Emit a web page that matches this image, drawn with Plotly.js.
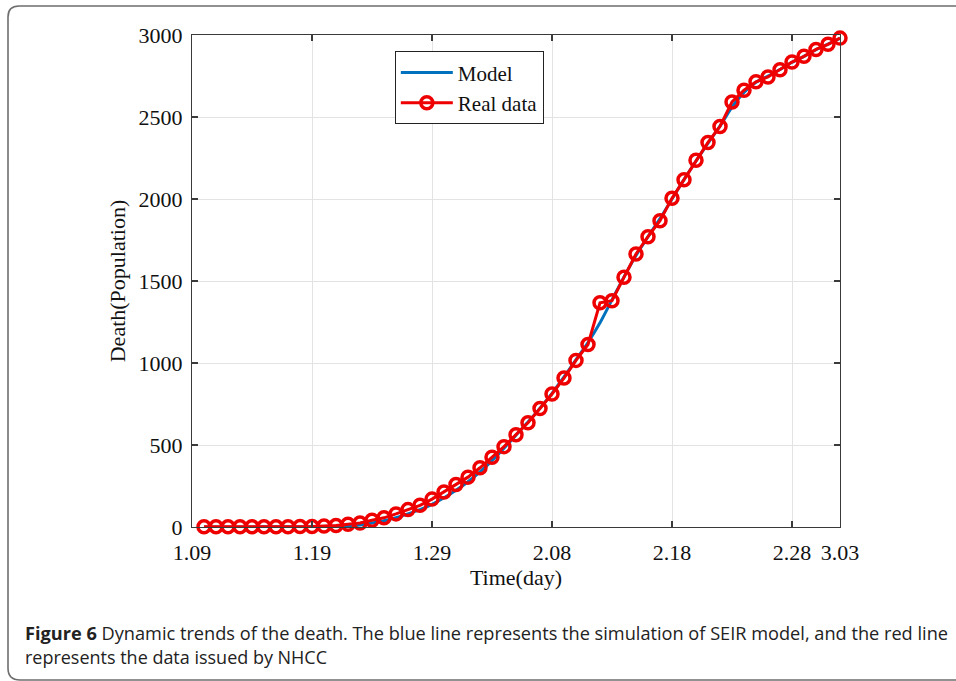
<!DOCTYPE html>
<html>
<head>
<meta charset="utf-8">
<script src="https://cdn.plot.ly/plotly-3.0.1.min.js"></script>
<style>
  html, body { margin: 0; padding: 0; background: #fff; overflow: hidden; }
  #wrap { position: relative; width: 956px; height: 681px; overflow: hidden; }
  #chart { position: absolute; left: 0; top: 0; width: 956px; height: 681px; }
  #cap { position: absolute; left: 0; top: 0; pointer-events: none; }
</style>
</head>
<body>
<div id="wrap">
  <div id="chart"></div>
  <svg id="cap" width="956" height="681">
    <path d="M 960 6 L 19 6 Q 8 6 8 17 L 8 668 Q 8 680 20 680 L 960 680" fill="none" stroke="#6e6e6e" stroke-width="1.6"/>
    <text id="cap1" x="25" y="640" font-family="Open Sans, Noto Sans, sans-serif" font-size="18" fill="#222"></text>
    <text id="cap2" x="25" y="664" font-family="Open Sans, Noto Sans, sans-serif" font-size="18" fill="#222"></text>
  </svg>
</div>
<script>
// ---- data (day index: 0 = Jan 9) ----
const dataDays = [1,2,3,4,5,6,7,8,9,10,11,12,13,14,15,16,17,18,19,20,21,22,23,24,25,26,27,28,29,30,31,32,33,34,35,36,37,38,39,40,41,42,43,44,45,46,47,48,49,50,51,52,53,54];
const realDeaths = [1,1,1,1,1,2,2,2,3,3,6,9,17,25,41,56,80,106,132,170,213,259,304,361,425,490,563,636,722,811,908,1016,1113,1367,1380,1523,1665,1770,1868,2004,2118,2236,2345,2442,2592,2663,2715,2744,2788,2835,2870,2912,2943,2981];
const modelDays = [1,2,3,4,5,6,7,8,9,10,11,12,13,14,15,16,17,18,19,20,21,22,23,24,25,26,27,28,29,30,31,32,33,34,35,36,37,38,39,40,41,42,43,44,45,46,47,48,49,50,51,52,53,54];
const modelDeaths = [0,0,0,0,0,1,1,1,2,2,3,5,8,12,24,38,57,80,106,138,178,224,276,336,405,481,560,640,725,815,915,1020,1125,1245,1385,1525,1655,1770,1880,2000,2118,2232,2340,2445,2560,2650,2712,2750,2790,2834,2870,2910,2944,2980];
const tickDays = [0,10,20,30,40,50,54];
const tickLabels = ['1.09','1.19','1.29','2.08','2.18','2.28','3.03'];
const yTicks = [0,500,1000,1500,2000,2500,3000];
const seriesNames = ['Model','Real data'];
const xTitle = 'Time(day)';
const yTitle = 'Death(Population)';
const captionBold = 'Figure 6';
const captionRest1 = '  Dynamic trends of the death. The blue line represents the simulation of SEIR model, and the red line';
const captionLine2 = 'represents the data issued by NHCC';

const serif = 'Liberation Serif, Times New Roman, serif';

const traces = [
  { x: modelDays, y: modelDeaths, name: seriesNames[0], type: 'scatter', mode: 'lines',
    line: { color: '#0072BD', width: 3, shape: 'spline', smoothing: 0.6 } },
  { x: dataDays, y: realDeaths, name: seriesNames[1], type: 'scatter', mode: 'lines+markers',
    cliponaxis: false,
    line: { color: '#EE0000', width: 3 },
    marker: { symbol: 'circle-open', size: 12, color: '#EE0000', line: { width: 3.5, color: '#EE0000' } } }
];

const axisCommon = {
  showline: true, mirror: 'ticks', linecolor: '#3a3a3a', linewidth: 1.2,
  ticks: 'inside', ticklen: 6, tickwidth: 1.2, tickcolor: '#3a3a3a',
  showgrid: true, gridcolor: '#e3e3e3', gridwidth: 1, zeroline: false,
  tickfont: { family: serif, size: 22, color: '#111' }
};

const layout = {
  width: 956, height: 681,
  margin: { l: 192, r: 116, t: 35, b: 154 },
  paper_bgcolor: '#fff', plot_bgcolor: '#fff',
  showlegend: true,
  legend: { x: 0.313, y: 0.967, xanchor: 'left', yanchor: 'top',
    bgcolor: '#fff', bordercolor: '#222', borderwidth: 1,
    font: { family: serif, size: 21, color: '#111' },
    tracegroupgap: 0, itemwidth: 52 },
  xaxis: Object.assign({}, axisCommon, {
    range: [0, 54], tickmode: 'array', tickvals: tickDays, ticktext: tickLabels,
    ticklabelstandoff: 5,
    title: { text: xTitle, font: { family: serif, size: 22, color: '#111' }, standoff: 6 }
  }),
  yaxis: Object.assign({}, axisCommon, {
    range: [0, 3000], tickmode: 'array', tickvals: yTicks,
    ticklabelstandoff: 4,
    title: { text: yTitle, font: { family: serif, size: 22, color: '#111' }, standoff: 6 }
  })
};

Plotly.newPlot('chart', traces, layout, { displayModeBar: false, staticPlot: true });

// caption text
const ns = 'http://www.w3.org/2000/svg';
const c1 = document.getElementById('cap1');
const b = document.createElementNS(ns, 'tspan'); b.setAttribute('font-weight', 'bold'); b.textContent = captionBold;
const r = document.createElementNS(ns, 'tspan'); r.textContent = captionRest1;
c1.setAttribute('xml:space', 'preserve');
c1.appendChild(b); c1.appendChild(r);
c1.setAttribute('textLength', '923'); c1.setAttribute('lengthAdjust', 'spacingAndGlyphs');
const c2 = document.getElementById('cap2');
c2.textContent = captionLine2;
c2.setAttribute('textLength', '302'); c2.setAttribute('lengthAdjust', 'spacingAndGlyphs');
</script>
</body>
</html>
